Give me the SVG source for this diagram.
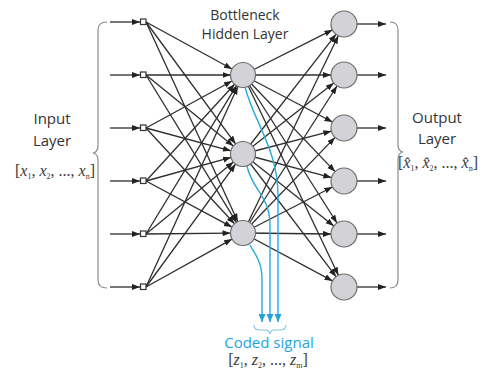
<svg xmlns="http://www.w3.org/2000/svg" width="480" height="369" viewBox="0 0 480 369">
  <defs>
    <marker id="arrow" markerUnits="userSpaceOnUse" markerWidth="9" markerHeight="7" refX="8" refY="3" orient="auto">
      <path d="M0,0 L8,3 L0,6 z" fill="#222"/>
    </marker>
    <marker id="arrow-blue" markerUnits="userSpaceOnUse" markerWidth="9" markerHeight="9" refX="3.5" refY="8" orient="0">
      <path d="M0,0 L3.5,8 L7,0 z" fill="#1fa5dc"/>
    </marker>
    <style>
      .edge { stroke: #2e2e2e; stroke-width: 1.3; fill: none; marker-end: url(#arrow); }
      .code { stroke: #2aa9df; stroke-width: 1.4; fill: none; marker-end: url(#arrow-blue); }
      .brace { stroke: #8a8a8a; stroke-width: 1.2; fill: none; }
      .brace-blue { stroke: #7cc6e8; stroke-width: 1.1; fill: none; }
      .unit { fill: #d3d3d7; stroke: #6e6e6e; stroke-width: 1.2; }
      .inp { fill: #ffffff; stroke: #333; stroke-width: 1.2; }
      .label { font-family: "Open Sans", "Noto Sans", sans-serif; font-size: 15px; fill: #333; text-anchor: middle; }
      .title { font-size: 14px; }
      .math { font-family: "Liberation Serif", "DejaVu Serif", serif; font-size: 16px; fill: #3a3a3a; text-anchor: middle; }
      .math .v { font-style: italic; }
      .math .s { font-size: 8px; }
      .blue { fill: #24a4de; }
    </style>
  </defs>

  <!-- braces grouping the input and output layers -->
  <path class="brace" d="M107,22 Q98,22 98,30 L98,146 Q98,152 93,153 Q98,154 98,160 L98,280 Q98,288 107,288"/>
  <path class="brace" d="M390,22 Q398,22 398,30 L398,145 Q398,151 403,152 Q398,153 398,159 L398,280 Q398,288 390,288"/>

  <g id="connectors">
    <!-- external inputs -->
    <line class="edge" x1="110" y1="22" x2="140" y2="22"/>
    <line class="edge" x1="110" y1="75" x2="140" y2="75"/>
    <line class="edge" x1="110" y1="128" x2="140" y2="128"/>
    <line class="edge" x1="110" y1="181" x2="140" y2="181"/>
    <line class="edge" x1="110" y1="234" x2="140" y2="234"/>
    <line class="edge" x1="110" y1="287" x2="140" y2="287"/>

    <!-- input -> hidden 1 -->
    <line class="edge" x1="146" y1="22" x2="232.0" y2="69.0"/>
    <line class="edge" x1="146" y1="75" x2="230.5" y2="75"/>
    <line class="edge" x1="146" y1="128" x2="232.0" y2="81.0"/>
    <line class="edge" x1="146" y1="181" x2="234.6" y2="84.2"/>
    <line class="edge" x1="146" y1="234" x2="236.5" y2="85.7"/>
    <line class="edge" x1="146" y1="287" x2="237.8" y2="86.4"/>
    <!-- input -> hidden 2 -->
    <line class="edge" x1="146" y1="22" x2="235.6" y2="143.9"/>
    <line class="edge" x1="146" y1="75" x2="233.3" y2="146.1"/>
    <line class="edge" x1="146" y1="128" x2="230.9" y2="150.8"/>
    <line class="edge" x1="146" y1="181" x2="231.0" y2="157.4"/>
    <line class="edge" x1="146" y1="234" x2="233.4" y2="162.0"/>
    <line class="edge" x1="146" y1="287" x2="235.6" y2="164.1"/>
    <!-- input -> hidden 3 -->
    <line class="edge" x1="146" y1="22" x2="237.8" y2="221.6"/>
    <line class="edge" x1="146" y1="75" x2="236.5" y2="222.4"/>
    <line class="edge" x1="146" y1="128" x2="234.5" y2="223.8"/>
    <line class="edge" x1="146" y1="181" x2="232.0" y2="227.1"/>
    <line class="edge" x1="146" y1="234" x2="230.5" y2="233.1"/>
    <line class="edge" x1="146" y1="287" x2="232.1" y2="239.1"/>

    <!-- hidden 1 -> output -->
    <line class="edge" x1="243" y1="75" x2="332.4" y2="29.9"/>
    <line class="edge" x1="243" y1="75" x2="331" y2="75"/>
    <line class="edge" x1="243" y1="75" x2="332.5" y2="122.0"/>
    <line class="edge" x1="243" y1="75" x2="335.0" y2="171.6"/>
    <line class="edge" x1="243" y1="75" x2="337.0" y2="223.0"/>
    <line class="edge" x1="243" y1="75" x2="338.4" y2="275.3"/>
    <!-- hidden 2 -> output -->
    <line class="edge" x1="243" y1="154" x2="336.0" y2="34.3"/>
    <line class="edge" x1="243" y1="154" x2="333.8" y2="83.0"/>
    <line class="edge" x1="243" y1="154" x2="331.4" y2="131.2"/>
    <line class="edge" x1="243" y1="154" x2="331.4" y2="177.6"/>
    <line class="edge" x1="243" y1="154" x2="333.8" y2="225.9"/>
    <line class="edge" x1="243" y1="154" x2="336.1" y2="276.7"/>
    <!-- hidden 3 -> output -->
    <line class="edge" x1="243" y1="233" x2="338.3" y2="35.7"/>
    <line class="edge" x1="243" y1="233" x2="337.0" y2="86.0"/>
    <line class="edge" x1="243" y1="233" x2="335.0" y2="137.4"/>
    <line class="edge" x1="243" y1="233" x2="332.4" y2="187.0"/>
    <line class="edge" x1="243" y1="233" x2="331" y2="234"/>
    <line class="edge" x1="243" y1="233" x2="332.5" y2="280.9"/>

    <!-- outputs leaving the network -->
    <line class="edge" x1="357" y1="24" x2="386" y2="24"/>
    <line class="edge" x1="357" y1="75" x2="386" y2="75"/>
    <line class="edge" x1="357" y1="128" x2="386" y2="128"/>
    <line class="edge" x1="357" y1="181" x2="386" y2="181"/>
    <line class="edge" x1="357" y1="234" x2="386" y2="234"/>
    <line class="edge" x1="357" y1="287" x2="386" y2="287"/>

    <!-- coded signal taken from the bottleneck -->
    <path class="code" d="M245,87 C254,122 278,150 278,195 L278,322"/>
    <path class="code" d="M247,166 C252,190 270,196 270,225 L270,322"/>
    <path class="code" d="M250,245 C256,256 262,262 262,280 L262,322"/>
  </g>

  <!-- input layer -->
  <g id="input-nodes">
    <rect id="in1" class="inp" x="140.5" y="19" width="5.5" height="5.5"/>
    <rect id="in2" class="inp" x="140.5" y="72" width="5.5" height="5.5"/>
    <rect id="in3" class="inp" x="140.5" y="125" width="5.5" height="5.5"/>
    <rect id="in4" class="inp" x="140.5" y="178" width="5.5" height="5.5"/>
    <rect id="in5" class="inp" x="140.5" y="231" width="5.5" height="5.5"/>
    <rect id="in6" class="inp" x="140.5" y="284" width="5.5" height="5.5"/>
  </g>

  <!-- bottleneck hidden layer -->
  <g id="hidden-nodes">
    <circle id="h1" class="unit" cx="243" cy="75" r="12.5"/>
    <circle id="h2" class="unit" cx="243" cy="154" r="12.5"/>
    <circle id="h3" class="unit" cx="243" cy="233" r="12.5"/>
  </g>

  <!-- output layer -->
  <g id="output-nodes">
    <circle id="o1" class="unit" cx="344" cy="24" r="13"/>
    <circle id="o2" class="unit" cx="344" cy="75" r="13"/>
    <circle id="o3" class="unit" cx="344" cy="128" r="13"/>
    <circle id="o4" class="unit" cx="344" cy="181" r="13"/>
    <circle id="o5" class="unit" cx="344" cy="234" r="13"/>
    <circle id="o6" class="unit" cx="344" cy="287" r="13"/>
  </g>

  <!-- small brace under the coded signal -->
  <path class="brace-blue" d="M254,325 Q254,330 260,330 L266,330 Q269,330 270,334 Q271,330 274,330 L280,330 Q286,330 286,325"/>

  <!-- labels -->
  <g id="labels">
    <text class="label title" x="245" y="20">Bottleneck</text>
    <text class="label title" x="245" y="39">Hidden Layer</text>

    <text class="label" x="52" y="124">Input</text>
    <text class="label" x="52" y="146">Layer</text>
    <text class="math" x="55" y="176">[<tspan class="v">x</tspan><tspan class="s" dy="3">1</tspan><tspan dy="-3">, </tspan><tspan class="v">x</tspan><tspan class="s" dy="3">2</tspan><tspan dy="-3">, ..., </tspan><tspan class="v">x</tspan><tspan class="s" dy="3">n</tspan><tspan dy="-3">]</tspan></text>

    <text class="label" x="437" y="123">Output</text>
    <text class="label" x="437" y="144">Layer</text>
    <text class="math" x="438" y="168">[<tspan class="v">x̂</tspan><tspan class="s" dy="3">1</tspan><tspan dy="-3">, </tspan><tspan class="v">x̂</tspan><tspan class="s" dy="3">2</tspan><tspan dy="-3">, ..., </tspan><tspan class="v">x̂</tspan><tspan class="s" dy="3">n</tspan><tspan dy="-3">]</tspan></text>

    <text class="label blue" x="269" y="348">Coded signal</text>
    <text class="math" x="268" y="365">[<tspan class="v">z</tspan><tspan class="s" dy="3">1</tspan><tspan dy="-3">, </tspan><tspan class="v">z</tspan><tspan class="s" dy="3">2</tspan><tspan dy="-3">, ..., </tspan><tspan class="v">z</tspan><tspan class="s" dy="3">m</tspan><tspan dy="-3">]</tspan></text>
  </g>
</svg>
